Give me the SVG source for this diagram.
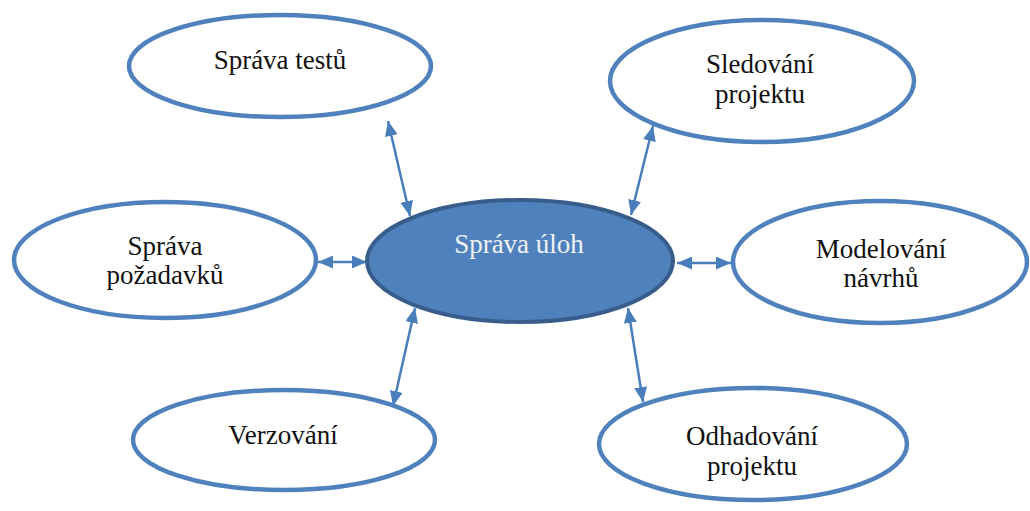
<svg xmlns="http://www.w3.org/2000/svg" width="1030" height="511" viewBox="0 0 1030 511">
  <style>
    .node { fill: #ffffff; stroke: #4F81BD; stroke-width: 4.5; }
    .hub { fill: #4F81BD; stroke: #385D8A; stroke-width: 4; }
    .label { font-family: "Liberation Serif", "Times New Roman", serif; font-size: 27px; fill: #111111; text-anchor: middle; }
    .hub-label { fill: #F2F2F2; }
    .link { stroke: #4A7EBB; stroke-width: 2.5; fill: none; marker-start: url(#head); marker-end: url(#head); }
  </style>
  <defs>
    <marker id="head" viewBox="0 0 15 13" refX="15" refY="6.5" markerWidth="15" markerHeight="13" markerUnits="userSpaceOnUse" orient="auto-start-reverse">
      <path d="M0,0 L15,6.5 L0,13 Z" fill="#4A7EBB"/>
    </marker>
  </defs>

  <g id="connectors">
    <line class="link" x1="410" y1="216" x2="388" y2="121"/>
    <line class="link" x1="631" y1="215" x2="653" y2="126"/>
    <line class="link" x1="367" y1="262" x2="318" y2="262"/>
    <line class="link" x1="677" y1="263" x2="731" y2="263"/>
    <line class="link" x1="415" y1="308" x2="393" y2="406"/>
    <line class="link" x1="628" y1="308" x2="643" y2="402"/>
  </g>

  <g id="sprava-testu">
    <ellipse class="node" cx="280" cy="66" rx="151" ry="51"/>
    <text class="label" x="280" y="69">Správa testů</text>
  </g>

  <g id="sledovani-projektu">
    <ellipse class="node" cx="762" cy="81" rx="152" ry="61"/>
    <text class="label" x="760" y="73">Sledování</text>
    <text class="label" x="760" y="103">projektu</text>
  </g>

  <g id="sprava-pozadavku">
    <ellipse class="node" cx="165" cy="260" rx="151" ry="58"/>
    <text class="label" x="165" y="255">Správa</text>
    <text class="label" x="165" y="284">požadavků</text>
  </g>

  <g id="sprava-uloh">
    <ellipse class="hub" cx="520" cy="261" rx="153" ry="61"/>
    <text class="label hub-label" x="519" y="253">Správa úloh</text>
  </g>

  <g id="modelovani-navrhu">
    <ellipse class="node" cx="880" cy="262" rx="147" ry="61"/>
    <text class="label" x="881" y="258">Modelování</text>
    <text class="label" x="881" y="287">návrhů</text>
  </g>

  <g id="verzovani">
    <ellipse class="node" cx="284" cy="440" rx="151" ry="50"/>
    <text class="label" x="283" y="444">Verzování</text>
  </g>

  <g id="odhadovani-projektu">
    <ellipse class="node" cx="753" cy="444" rx="154" ry="56"/>
    <text class="label" x="752" y="445">Odhadování</text>
    <text class="label" x="752" y="475">projektu</text>
  </g>
</svg>
